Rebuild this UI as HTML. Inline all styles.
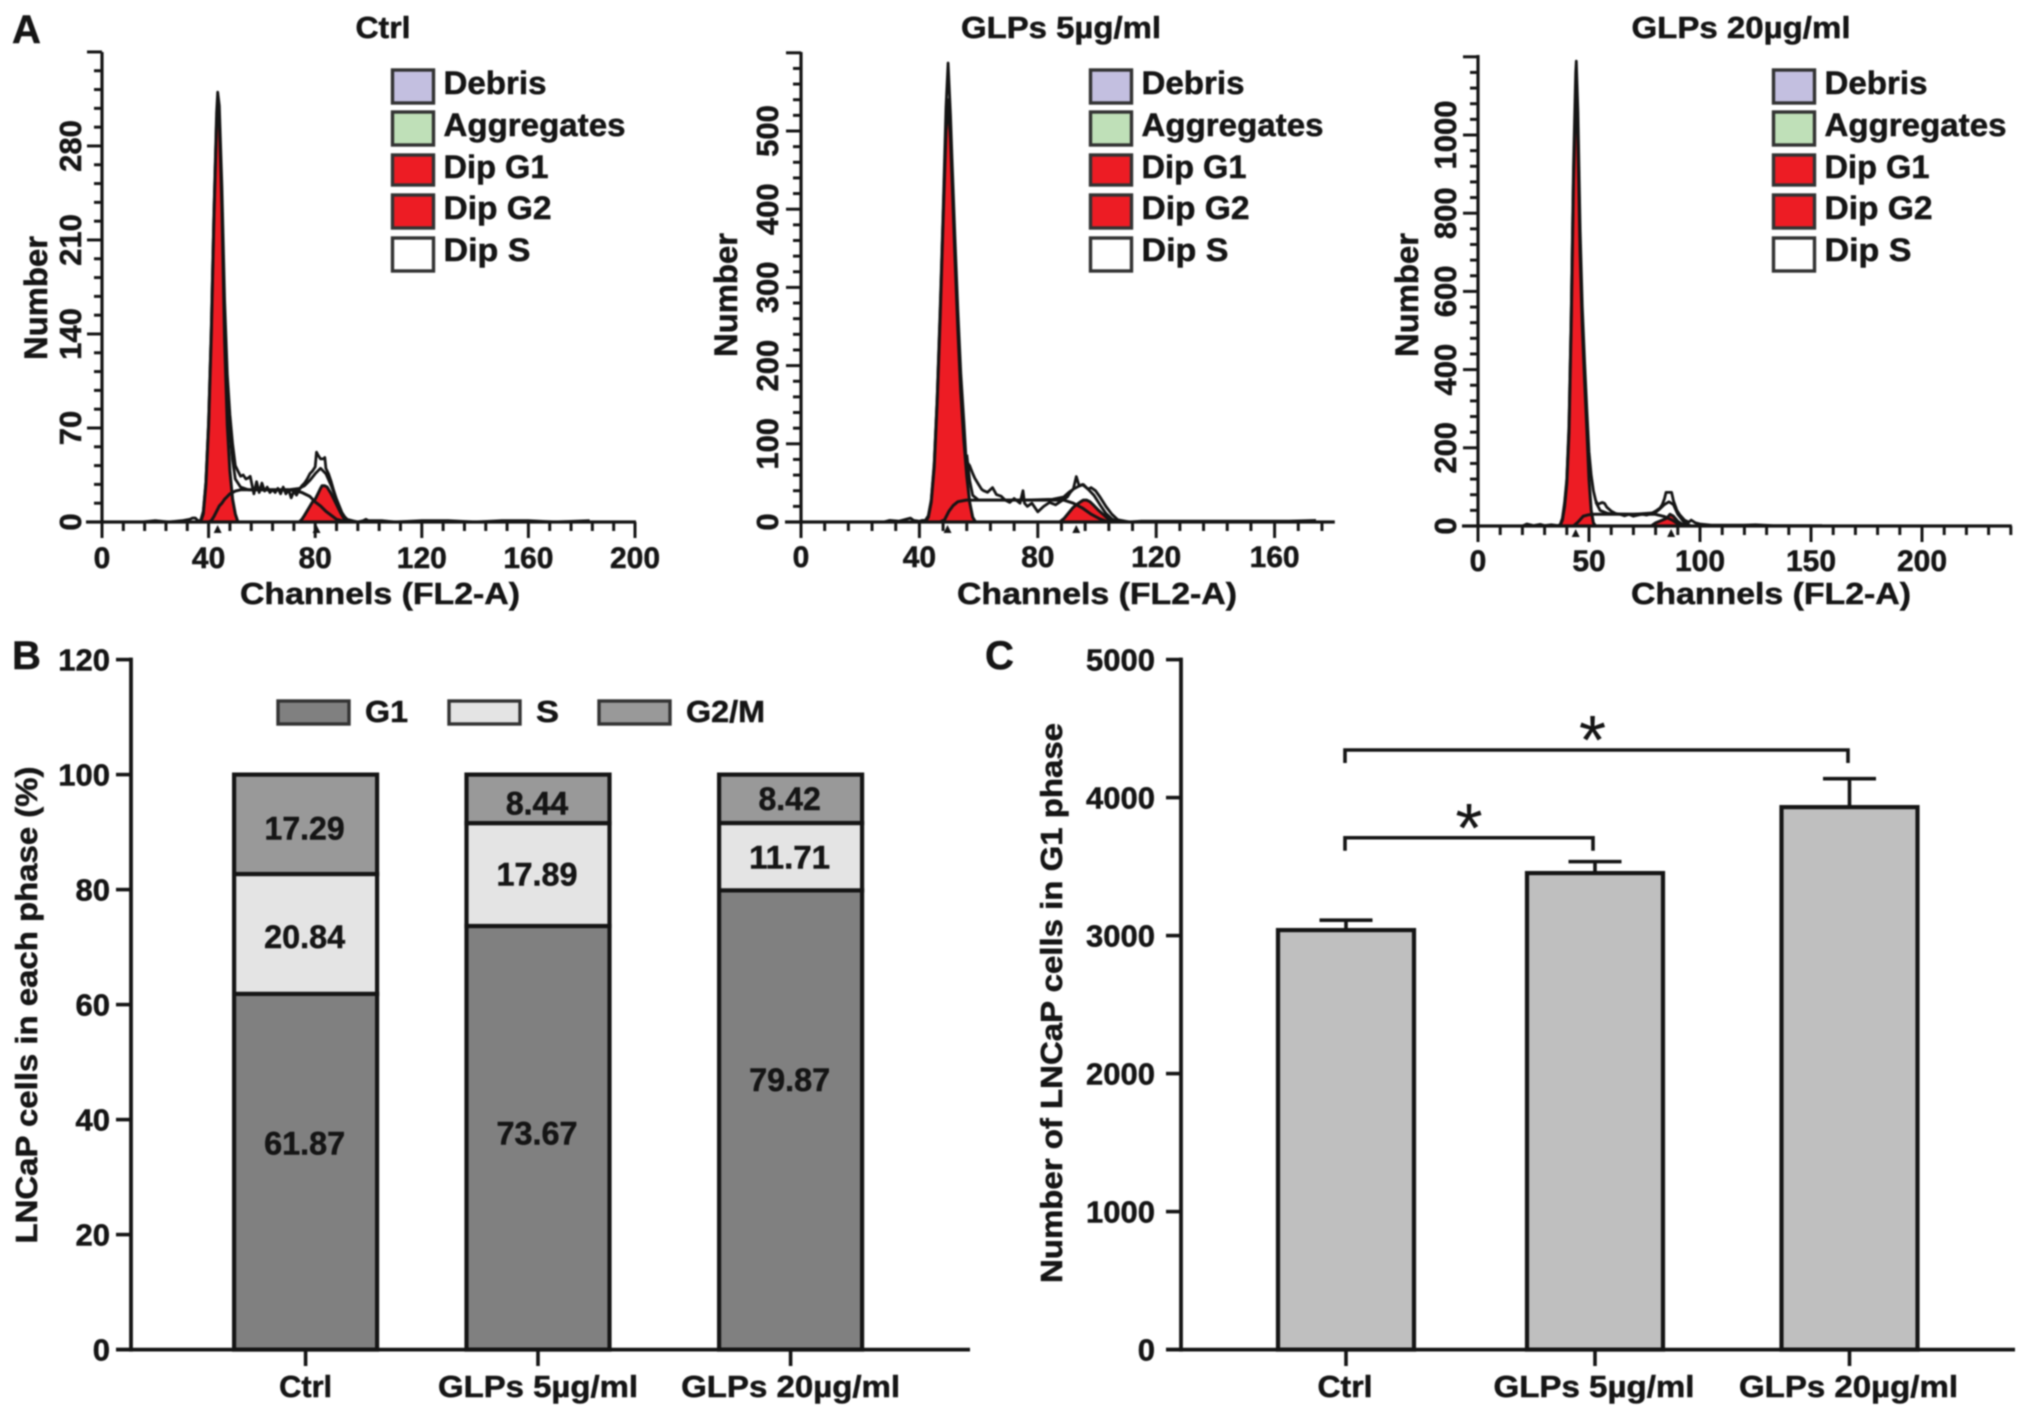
<!DOCTYPE html>
<html lang="en">
<head>
<meta charset="utf-8">
<title>Cell cycle analysis of LNCaP cells</title>
<style>
html,body{margin:0;padding:0;background:#fff;width:2029px;height:1417px;overflow:hidden}
svg{display:block;filter:blur(.7px)}
text{font-family:"Liberation Sans",sans-serif;font-weight:700;fill:#151515;stroke:#151515;stroke-width:.5px}
</style>
</head>
<body>
<svg id="figure" xmlns="http://www.w3.org/2000/svg" width="2029" height="1417" viewBox="0 0 2029 1417"></svg>
<script>
/* ---------- Panel A: Ctrl histogram ---------- */
const ctrlXTicks = [0, 40, 80, 120, 160, 200];
const ctrlYTicks = [0, 70, 140, 210, 280];
const ctrlRawX = [15,20,25,30,33,34,35,36,37, 38,39,40,41,42,43,43.4,44,45,46, 47,48,49,50,51,52,53,54,55,55.6, 57,58,59,60,61,62,63,64,65,66, 67,68,69,70,71,72,73,74,75,76, 77,78,79,80,80.5,81,82,83,83.6,84, 85,86,87,88,89,90,91,92,94,96, 98,99,100,105,110,120,130,140,150,160,170,183];
const ctrlRawY = [0,1,0,1,2,3,3,1,1, 8,30,75,145,230,305,320,310,250,165, 110,80,58,42,38,34,35,32,33,34, 21,30,22,29,23,26,22,24,22,25, 21,26,21,24,18,23,20,24,27,29, 32,36,38,41,52,50,47,47,48,40, 36,30,23,17,12,7,4,2,1,0, 1,2,1,1,0,1,1,0,1,1,0,1];
const ctrlG1X = [37,38,39,40,41,42,43,43.5,44,45,46,47,48,49,50,51];
const ctrlG1Y = [0,6,28,72,140,225,298,308,300,235,135,72,38,17,6,0];
const ctrlSX = [40,41,42,43,44,45,46,47,48,49,50,52,60,70,73,75,77,78,80,82,84,86,88,90,92];
const ctrlSY = [0,1,4,8,12,14,17,19,21,22,23,24,24,24,23,22,20,19,15,12,8,5,2,1,0];
const ctrlG2X = [74,75,76,77.5,79,80,81,82,82.6,83.5,84.5,86,87,88,89.5,91,92];
const ctrlG2Y = [0,2,5,10,15,17,21,25,27,27,26,21,17,13,7,2,0];
const ctrlFitX = [47,48,49,50,52,55,60,70,74,76,78,80,82,84,86,88,90,92,94];
const ctrlFitY = [105,68,46,32,26,24,24,24,25,27,31,36,40,36,27,17,7,1,0];
const ctrlMarkers = [43.4, 80.5];

/* ---------- Panel A: GLPs 5 histogram ---------- */
const low5XTicks = [0, 40, 80, 120, 160];
const low5YTicks = [0, 100, 200, 300, 400, 500];
const low5RawX = [28,30,33,36,37,38,40,41,42,43, 44,45,46,47,48,49,49.7,50.5,51,52, 53,54,55,55.8,57,58,58.7,60,61,61.7, 63,64.7,66,67.6,69,70.5,72,74,75,75.5, 76.5,78,80,82,84,86,88.4,90,91,92, 93,94,95,96,97,98,99.5,101,103,105, 107,111,115,120,125,130,135,150,165,174];
const low5RawY = [0,2,1,4,5,2,1,2,2,8, 28,75,160,270,395,530,587,520,465,365, 270,190,130,78,72,62,56,48,42,40, 38,44,35,33,28,25,30,24,40,24, 20,24,13,20,25,22,28,32,38,42, 58,46,48,45,42,44,40,32,20,10, 3,0,1,1,1,1,1,1,1,2];
const low5G1X = [42,43,44,45,46,47,48,49,49.7,50.5,51,52,53,54,55,56,57,58,59];
const low5G1Y = [0,6,25,70,155,260,385,500,540,490,440,340,245,165,105,58,25,6,0];
const low5SX = [47,48.5,50,51.4,53,55.8,60,70,80,88.7,92,95,98,101,103,105];
const low5SY = [0,3,14,21,26,28,28,28,28,28,24,18,10,4,1,0];
const low5G2X = [87.4,89,90.5,91.8,93,94.5,95.4,96.5,97.6,99,100.5,102,104,105.6];
const low5G2Y = [0,5,12,18,22,26,28,28,26,21,15,10,3,0];
const low5FitX = [56,57,58,60,65,75,85,88.7,90.5,92,94,95.4,97,99,101,103,105,107];
const low5FitY = [86,53,34,28,28,28,29,32,38,42,46,48,42,34,22,11,4,0];
const low5Markers = [49.5, 93];

/* ---------- Panel A: GLPs 20 histogram ---------- */
const high20XTicks = [0, 50, 100, 150, 200];
const high20YTicks = [0, 200, 400, 600, 800, 1000];
const high20RawX = [20,22,25,28,30,33,36,37,38,39, 40,41,42,43,44,44.3,45,46,47,48, 49,50,51,52,53,54,55,56,57,58, 60,62,64,66,68,70,72,74,76,78, 80,82,83,84,84.7,87.2,88,89.6,91,93, 95,96,98,100,105,110,120,125,133,155];
const high20RawY = [0,5,1,4,1,3,1,3,20,60, 120,260,540,920,1160,1189,1060,760,560,420, 300,190,130,90,65,55,58,60,58,48, 38,32,30,26,30,25,28,30,28,32, 38,46,55,70,86,86,65,40,28,15, 10,15,8,5,2,2,2,3,1,1];
const high20G1X = [37,38,39,40,41,42,43,44,44.3,45,46,47,48,49,50,51,52,53];
const high20G1Y = [0,15,50,110,240,520,880,1090,1130,1000,700,510,370,250,120,40,8,0];
const high20SX = [43,45,47.4,50,52,60,70,79.8,84,87.5,91,93];
const high20SY = [0,10,25,29,30,30,30,30,24,15,2,0];
const high20G2X = [78,80,83,85,86.5,88,90,92,94];
const high20G2Y = [0,8,15,20,30,25,12,4,0];
const high20FitX = [53,55,58,60,70,79.8,82,84,86,88,90,93,96];
const high20FitY = [62,40,33,31,30,34,44,55,62,55,30,8,0];
const high20Markers = [44, 87];

const legendLabelsA = ['Debris', 'Aggregates', 'Dip G1', 'Dip G2', 'Dip S'];

/* ---------- Panel B: stacked bars ---------- */
const groupsB = ['Ctrl', 'GLPs 5µg/ml', 'GLPs 20µg/ml'];
const g1Values = [61.87, 73.67, 79.87];
const sValues = [20.84, 17.89, 11.71];
const g2mValues = [17.29, 8.44, 8.42];
const yTicksB = [0, 20, 40, 60, 80, 100, 120];
const phaseNames = ['G1', 'S', 'G2/M'];

/* ---------- Panel C: bars with error bars ---------- */
const groupsC = ['Ctrl', 'GLPs 5µg/ml', 'GLPs 20µg/ml'];
const g1Counts = [3040, 3453, 3931];
const g1CountErrors = [72, 83, 206];
const yTicksC = [0, 1000, 2000, 3000, 4000, 5000];
const bracketLevels = [3709, 4345];

const svg = document.getElementById('figure');
const NS = 'http://www.w3.org/2000/svg';
const INK = '#151515';

function add(tag, name, attrs) {
  const el = document.createElementNS(NS, tag);
  
  
  for (const k in attrs) el.setAttribute(k, attrs[k]);
  svg.appendChild(el);
  return el;
}
function seg(name, x1, y1, x2, y2, w) {
  return add('line', name, {x1, y1, x2, y2, stroke: INK, 'stroke-width': w, 'stroke-linecap': 'butt'});
}
function txt(name, str, x, y, o) {
  o = o || {};
  const a = {x, y, 'font-size': o.size || 30, 'text-anchor': o.anchor || 'start'};
  if (o.rot) a.transform = 'rotate(-90 ' + x + ' ' + y + ')';
  if (o.len) { a.textLength = o.len; a.lengthAdjust = 'spacingAndGlyphs'; }
  const el = add('text', name, a);
  if (o.normal) { el.style.fontWeight = '400'; el.style.strokeWidth = '0'; }
  el.textContent = str;
  return el;
}

function histogram(c) {
  const X = v => c.x0 + v * c.kx;
  const Y = v => c.y0 - v * c.ky;
  const pts = (xs, ys) => xs.map((v, i) => X(v).toFixed(1) + ',' + Y(ys[i]).toFixed(1)).join(' ');
  add('polygon', c.id + '-g1-peak', {points: pts(c.g1x, c.g1y), fill: '#ed1c24', stroke: INK, 'stroke-width': 3, 'stroke-linejoin': 'round'});
  add('polygon', c.id + '-g2-peak', {points: pts(c.g2x, c.g2y), fill: '#ed1c24', stroke: INK, 'stroke-width': 3, 'stroke-linejoin': 'round'});
  add('polyline', c.id + '-s-phase-curve', {points: pts(c.sx, c.sy), fill: 'none', stroke: INK, 'stroke-width': 3, 'stroke-linejoin': 'round'});
  add('polyline', c.id + '-fit-curve', {points: pts(c.fx, c.fy), fill: 'none', stroke: INK, 'stroke-width': 2.8, 'stroke-linejoin': 'round'});
  add('polyline', c.id + '-raw-histogram', {points: pts(c.rx, c.ry), fill: 'none', stroke: INK, 'stroke-width': 2.8, 'stroke-linejoin': 'round'});

  /* axes */
  seg(c.id + '-y-axis', c.x0, c.y0 + 1, c.x0, c.yTop, 3.2);
  seg(c.id + '-x-axis', c.x0 - 16, c.y0, X(c.xMax) + 1, c.y0, 3.2);
  const xStep = c.xt[1] - c.xt[0], yStep = c.yt[1] - c.yt[0];
  for (let i = 0; i <= Math.floor(c.xMax / (xStep / c.xSub)); i++) {
    const v = i * xStep / c.xSub;
    const major = i % c.xSub === 0;
    seg(c.id + (major ? '-x-major-tick' : '-x-minor-tick'), X(v), c.y0, X(v), c.y0 + (major ? 16 : 9), 3);
  }
  for (let i = 1; i <= Math.floor(c.yMax / (yStep / c.ySub)); i++) {
    const v = i * yStep / c.ySub;
    const major = i % c.ySub === 0;
    seg(c.id + (major ? '-y-major-tick' : '-y-minor-tick'), c.x0 - (major ? 15 : 8), Y(v), c.x0, Y(v), 3);
  }
  c.xt.forEach(v => txt(c.id + '-x-tick-label', String(v), X(v), c.xLabelY, {anchor: 'middle', size: 30}));
  c.yt.forEach(v => txt(c.id + '-y-tick-label', String(v), c.yLabelX, Y(v), {anchor: 'middle', rot: true, size: 31}));
  c.markers.forEach(v => add('polygon', c.id + '-peak-marker', {
    points: (X(v) - 4) + ',' + (c.y0 + 11) + ' ' + X(v) + ',' + (c.y0 + 3) + ' ' + (X(v) + 4) + ',' + (c.y0 + 11),
    fill: INK
  }));

  /* titles */
  txt(c.id + '-title', c.title, c.titleX, 38, {anchor: 'middle', len: c.titleLen, size: 31});
  txt(c.id + '-x-axis-title', 'Channels (FL2-A)', c.chanX, 604, {anchor: 'middle', len: 280, size: 31});
  txt(c.id + '-y-axis-title', 'Number', c.numX, c.numY, {anchor: 'middle', rot: true, len: 124, size: 32});

  /* legend */
  const tops = [70, 112, 155, 195, 238];
  const hs = [33, 33, 30, 33, 33];
  const fills = ['#c3bfe0', '#bfe0b8', '#ed1c24', '#ed1c24', '#ffffff'];
  const bases = [94, 136, 178, 219, 261];
  const lens = [103, 182, 105, 108, 87];
  legendLabelsA.forEach((label, i) => {
    add('rect', c.id + '-legend-swatch', {x: c.legX, y: tops[i], width: 41, height: hs[i], fill: fills[i], stroke: '#333', 'stroke-width': 3.4});
    txt(c.id + '-legend-label', label, c.legX + 51, bases[i], {size: 32, len: lens[i]});
  });
}

histogram({id: 'ctrl-histogram', title: 'Ctrl', titleX: 383, titleLen: 55,
  x0: 102, y0: 522, kx: 2.665, ky: 1.343, yTop: 52, xMax: 200, yMax: 350, xSub: 5, ySub: 5,
  xt: ctrlXTicks, yt: ctrlYTicks, xLabelY: 568, yLabelX: 81, chanX: 380, numX: 47, numY: 298,
  legX: 392.5, rx: ctrlRawX, ry: ctrlRawY, g1x: ctrlG1X, g1y: ctrlG1Y, g2x: ctrlG2X, g2y: ctrlG2Y,
  sx: ctrlSX, sy: ctrlSY, fx: ctrlFitX, fy: ctrlFitY, markers: ctrlMarkers});

histogram({id: 'glps5-histogram', title: 'GLPs 5µg/ml', titleX: 1061, titleLen: 200,
  x0: 801, y0: 522, kx: 2.96, ky: 0.782, yTop: 52, xMax: 180, yMax: 600, xSub: 5, ySub: 5,
  xt: low5XTicks, yt: low5YTicks, xLabelY: 567, yLabelX: 778, chanX: 1097, numX: 737, numY: 295,
  legX: 1090.5, rx: low5RawX, ry: low5RawY, g1x: low5G1X, g1y: low5G1Y, g2x: low5G2X, g2y: low5G2Y,
  sx: low5SX, sy: low5SY, fx: low5FitX, fy: low5FitY, markers: low5Markers});

histogram({id: 'glps20-histogram', title: 'GLPs 20µg/ml', titleX: 1741, titleLen: 219,
  x0: 1478, y0: 526, kx: 2.22, ky: 0.391, yTop: 55, xMax: 240, yMax: 1200, xSub: 5, ySub: 5,
  xt: high20XTicks, yt: high20YTicks, xLabelY: 571, yLabelX: 1456, chanX: 1771, numX: 1418, numY: 295,
  legX: 1773.5, rx: high20RawX, ry: high20RawY, g1x: high20G1X, g1y: high20G1Y, g2x: high20G2X, g2y: high20G2Y,
  sx: high20SX, sy: high20SY, fx: high20FitX, fy: high20FitY, markers: high20Markers});

/* panel letters */
txt('panel-label-a', 'A', 12, 43, {size: 40});
txt('panel-label-b', 'B', 12, 669, {size: 40});
txt('panel-label-c', 'C', 985, 669, {size: 40});

/* ---------- Panel B drawing ---------- */
(function () {
  const y0 = 1349.6, k = 5.75, xAxis = 131;
  const Y = v => y0 - v * k;
  const centers = [305.6, 538, 790.6];
  const barW = 143;
  const colors = ['#808080', '#e4e4e4', '#999999'];
  const g1LabelFrac = [0.58, 0.51, 0.587];
  const sLabelFrac = [0.476, 0.5, 0.485];
  const g2mLabelFrac = [0.46, 0.4, 0.5];
  const catLens = [53, 200, 219];
  groupsB.forEach((g, i) => {
    const a = g1Values[i], b = sValues[i], c = g2mValues[i];
    const parts = [[0, a, 0], [a, b, 1], [a + b, c, 2]];
    parts.forEach(p => {
      add('rect', 'stack-' + phaseNames[p[2]].toLowerCase().replace('/', '') + '-' + i, {
        x: centers[i] - barW / 2, y: Y(p[0] + p[1]), width: barW, height: p[1] * k,
        fill: colors[p[2]], stroke: INK, 'stroke-width': 4.2
      });
    });
    txt('value-g1', a.toFixed(2), centers[i] - 1, Y(a * g1LabelFrac[i]) + 11, {size: 32, anchor: 'middle', len: 81});
    txt('value-s', b.toFixed(2), centers[i] - 1, Y(a + b * sLabelFrac[i]) + 11, {size: 32, anchor: 'middle', len: 81});
    txt('value-g2m', c.toFixed(2), centers[i] - 1, Y(a + b + c * g2mLabelFrac[i]) + 11, {size: 32, anchor: 'middle'});
    seg('b-x-tick', centers[i], y0, centers[i], 1366, 3.6);
    txt('b-category-label', g, centers[i], 1397, {size: 31, anchor: 'middle', len: catLens[i]});
  });
  seg('b-y-axis', xAxis, Y(120) - 2, xAxis, y0 + 2, 3.8);
  seg('b-x-axis', 116, y0, 970, y0, 3.8);
  yTicksB.forEach(v => {
    seg('b-y-tick', 116, Y(v), xAxis, Y(v), 3.6);
    txt('b-y-tick-label', String(v), 110, Y(v) + 11, {size: 31, anchor: 'end'});
  });
  txt('b-y-axis-title', 'LNCaP cells in each phase (%)', 37, 1005, {size: 31, anchor: 'middle', rot: true, len: 477});
  const legX = [278, 449, 599], legText = [365, 536, 686], legLen = [43, 23, 79];
  phaseNames.forEach((n, i) => {
    add('rect', 'b-legend-swatch', {x: legX[i], y: 701, width: 71, height: 23, fill: colors[i], stroke: '#333', 'stroke-width': 3.4});
    txt('b-legend-label', n, legText[i], 722, {size: 31, len: legLen[i]});
  });
})();

/* ---------- Panel C drawing ---------- */
(function () {
  const y0 = 1349.6, k = 0.138, xAxis = 1181;
  const Y = v => y0 - v * k;
  const centers = [1346, 1595, 1849.5];
  const barW = 136;
  const catLens = [55, 201, 219];
  const capW = 53;
  groupsC.forEach((g, i) => {
    seg('c-error-stem', centers[i], Y(g1Counts[i]), centers[i], Y(g1Counts[i] + g1CountErrors[i]), 3.6);
    seg('c-error-cap', centers[i] - capW / 2, Y(g1Counts[i] + g1CountErrors[i]), centers[i] + capW / 2, Y(g1Counts[i] + g1CountErrors[i]), 3.6);
    add('rect', 'c-bar', {x: centers[i] - barW / 2, y: Y(g1Counts[i]), width: barW, height: g1Counts[i] * k, fill: '#bfbfbf', stroke: INK, 'stroke-width': 4.2});
    seg('c-x-tick', centers[i], y0, centers[i], 1366, 3.6);
    txt('c-category-label', g, centers[i] - 1, 1397, {size: 31, anchor: 'middle', len: catLens[i]});
  });
  seg('c-y-axis', xAxis, Y(5000) - 2, xAxis, y0 + 2, 3.8);
  seg('c-x-axis', 1166, y0, 2015, y0, 3.8);
  yTicksC.forEach(v => {
    seg('c-y-tick', 1166, Y(v), xAxis, Y(v), 3.6);
    txt('c-y-tick-label', String(v), 1155, Y(v) + 11, {size: 31, anchor: 'end'});
  });
  txt('c-y-axis-title', 'Number of LNCaP cells in G1 phase', 1062, 1003, {size: 31, anchor: 'middle', rot: true, len: 560});
  const ends = [[1345, 1593], [1345, 1848]];
  bracketLevels.forEach((lvl, i) => {
    const yb = Y(lvl);
    add('polyline', 'significance-bracket', {
      points: ends[i][0] + ',' + (yb + 13) + ' ' + ends[i][0] + ',' + yb + ' ' + ends[i][1] + ',' + yb + ' ' + ends[i][1] + ',' + (yb + 13),
      fill: 'none', stroke: INK, 'stroke-width': 3.6
    });
    txt('significance-star', '*', (ends[i][0] + ends[i][1]) / 2 - (i ? 4 : 0), yb + 14, {size: 70, anchor: 'middle', normal: true});
  });
})();
</script>
</body>
</html>
